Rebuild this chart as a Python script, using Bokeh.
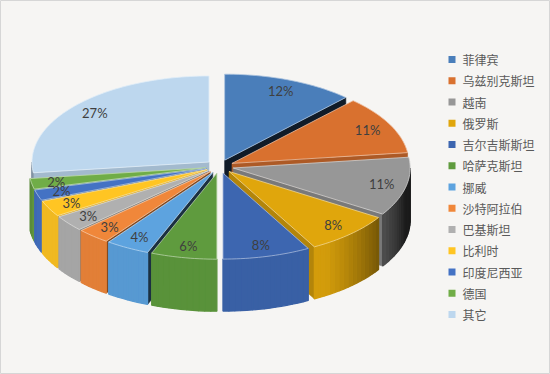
import numpy as np
from bokeh.plotting import figure
from bokeh.models import ColumnDataSource, Range1d
from bokeh.embed import file_html
from bokeh.resources import INLINE
from bokeh.core.properties import value

# ---- data ----
categories = ["菲律宾", "乌兹别克斯坦", "越南", "俄罗斯", "吉尔吉斯斯坦", "哈萨克斯坦",
              "挪威", "沙特阿拉伯", "巴基斯坦", "比利时", "印度尼西亚", "德国", "其它"]
shares = [12, 11, 11, 8, 8, 6, 4, 3, 3, 3, 2, 2, 27]
pct_labels = ["12%", "11%", "11%", "8%", "8%", "6%", "4%", "3%", "3%", "3%", "2%", "2%", "27%"]
colors = ["#4A7EBA", "#D9712F", "#979797", "#E0A60C", "#3D66B0", "#5F9B3E",
          "#5DA3DF", "#F0873A", "#B0B0B0", "#FFC523", "#4472C4", "#70AD47", "#BDD7EE"]

# ---- geometry (layout) ----
CX, CY, RX, RY, DEPTH, EXPLODE = 219, 166, 177, 86, 52, 14
K = RY / RX


def hex2rgb(h):
    h = h.lstrip("#")
    return np.array([int(h[i:i + 2], 16) for i in (0, 2, 4)], dtype=float)


def rgb2hex(c):
    c = np.clip(np.round(c), 0, 255).astype(int)
    return "#%02x%02x%02x" % tuple(c)


def shade(h, f):
    return rgb2hex(hex2rgb(h) * f)


def mix_white(h, a):
    c = hex2rgb(h)
    return rgb2hex(c + (255 - c) * a)


def light(n):
    d = abs(((n - 200) + 180) % 360 - 180)
    c = np.cos(np.radians(d))
    f = np.clip((c + 0.1) / 0.7, 0, 1)
    return 0.18 + 0.76 * f


def rim(t, ox, oy):
    t = np.radians(t)
    return ox + RX * np.sin(t), oy - RY * np.cos(t)


total = float(sum(shares))
cum = np.concatenate([[0], np.cumsum(shares)])
starts = cum[:-1] / total * 360
ends = cum[1:] / total * 360
mids = (starts + ends) / 2

xs, ys, fills, lines, widths = [], [], [], [], []


def add(px, py, fill, line, w):
    xs.append(list(px))
    ys.append(list(py))
    fills.append(fill)
    lines.append(line)
    widths.append(w)


order = sorted(range(len(shares)), key=lambda i: -np.cos(np.radians(mids[i])))
lab_x, lab_y = [0] * len(shares), [0] * len(shares)

for i in order:
    s, e, m = starts[i], ends[i], mids[i]
    ox = CX + EXPLODE * np.sin(np.radians(m))
    oy = CY - EXPLODE * K * np.cos(np.radians(m))
    col = colors[i]
    # cut faces
    for t, vis, f in ((s, np.sin(np.radians(s)) < -1e-6, light(s - 90) * 0.92),
                      (e, np.sin(np.radians(e)) > 1e-6, light(e + 90 - 25) * 0.85)):
        if vis:
            rx_, ry_ = rim(t, ox, oy)
            c = shade(col, f)
            add([ox, rx_, rx_, ox], [oy, ry_, ry_ + DEPTH, oy + DEPTH], c, c, 0.6)
    # outer side
    a0, a1 = max(s, 90), min(e, 270)
    if a1 > a0:
        nseg = max(1, int(np.ceil((a1 - a0) / 2.0)))
        tt = np.linspace(a0, a1, nseg + 1)
        for j in range(nseg):
            xa, ya = rim(tt[j], ox, oy)
            xb, yb = rim(tt[j + 1], ox, oy)
            c = shade(col, light((tt[j] + tt[j + 1]) / 2))
            add([xa, xb, xb, xa], [ya, yb, yb + DEPTH, ya + DEPTH], c, c, 1.3)
    # top face
    tt = np.linspace(s, e, max(3, int((e - s) / 1.5) + 2))
    rx_, ry_ = rim(tt, ox, oy)
    add(np.concatenate([[ox], rx_]), np.concatenate([[oy], ry_]), col, mix_white(col, 0.55), 0.8)
    lab_x[i] = ox + 0.86 * RX * np.sin(np.radians(m))
    lab_y[i] = oy - 0.86 * RY * np.cos(np.radians(m))

p = figure(width=550, height=374, x_range=Range1d(0, 550), y_range=Range1d(374, 0),
           output_backend="svg", toolbar_location=None, min_border=0)
p.axis.visible = False
p.xgrid.visible = False
p.ygrid.visible = False
p.background_fill_color = "#F6F5F3"
p.border_fill_color = "#F6F5F3"
p.outline_line_color = "#D6D6D6"

src = ColumnDataSource(dict(xs=xs, ys=ys, fill=fills, line=lines, w=widths))
p.patches("xs", "ys", source=src, fill_color="fill", line_color="line", line_width="w")

p.text(x=lab_x, y=lab_y, text=pct_labels, text_font=value("Lato"), text_font_size="13px",
       text_color="#3F3F3F", text_align="center", text_baseline="middle")

# legend
leg_y = [59 + 21.25 * i for i in range(len(categories))]
p.scatter(x=[451.5] * len(categories), y=leg_y, marker="square", size=7,
          fill_color=colors, line_color=None)
p.text(x=[462] * len(categories), y=leg_y, text=categories,
       text_font=value("Noto Sans CJK SC"), text_font_size="12px",
       text_color="#595959", text_align="left", text_baseline="middle")

open("out.html", "w").write(file_html(p, INLINE))
